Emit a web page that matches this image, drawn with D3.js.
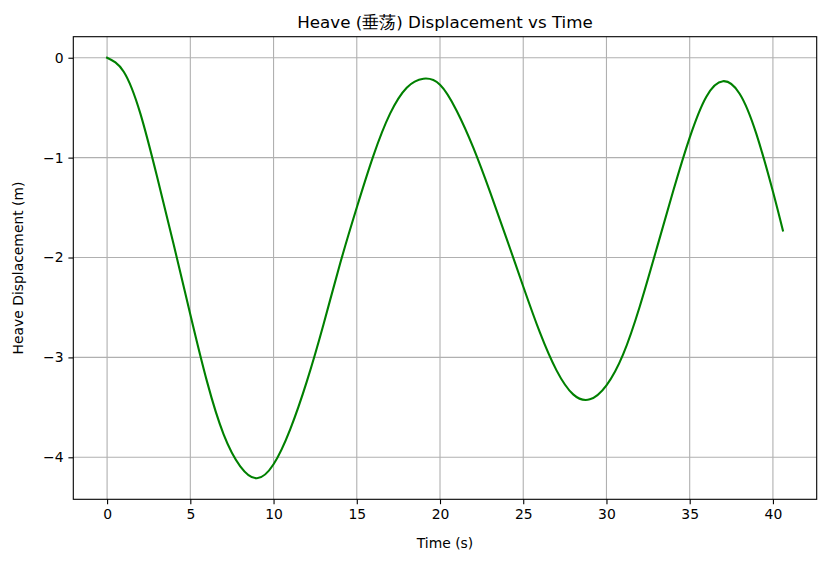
<!DOCTYPE html>
<html>
<head>
<meta charset="utf-8">
<script src="https://cdn.jsdelivr.net/npm/d3@7"></script>
<style>
  body { margin: 0; background: #fff; }
  svg { display: block; font-family: "DejaVu Sans", sans-serif; }
</style>
</head>
<body>
<svg id="main-svg" width="828" height="565"></svg>
<script>
// ----- //
// data
// ----- //
var timeValues = [0, 1, 2, 3, 4, 5, 6, 7, 8, 9, 10, 11, 12, 13, 14, 15, 16, 17, 18, 19, 20, 21, 22, 23, 24, 25, 26, 27, 28, 29, 30, 31, 32, 33, 34, 35, 36, 37, 38, 39, 40, 40.6];
var heaveValues = [0, -0.14, -0.56, -1.19, -1.87, -2.57, -3.24, -3.77, -4.09, -4.21, -4.07, -3.72, -3.24, -2.67, -2.06, -1.5, -0.98, -0.56, -0.3, -0.21, -0.27, -0.53, -0.9, -1.34, -1.81, -2.29, -2.75, -3.13, -3.37, -3.42, -3.28, -2.97, -2.49, -1.92, -1.34, -0.8, -0.39, -0.235, -0.36, -0.76, -1.34, -1.73];
var xTicks = [0, 5, 10, 15, 20, 25, 30, 35, 40];
var yTicks = [0, -1, -2, -3, -4];

var data = timeValues.map(function(t, i) { return { t: t, v: heaveValues[i] }; });

// ----- //
// layout
// ----- //
var plotLeft = 73.3, plotRight = 816.7, plotTop = 36.7, plotBottom = 499.3;

var svg = d3.select("#main-svg");

// matplotlib-style 5% margins around the data
var tExt = d3.extent(timeValues), vExt = d3.extent(heaveValues);
var tPad = (tExt[1] - tExt[0]) * 0.05, vPad = (vExt[1] - vExt[0]) * 0.05;

var x = d3.scaleLinear().domain([tExt[0] - tPad, tExt[1] + tPad]).range([plotLeft, plotRight]);
var y = d3.scaleLinear().domain([vExt[0] - vPad, vExt[1] + vPad]).range([plotBottom, plotTop]);

// grid
var grid = svg.append("g");
grid.selectAll(".gx").data(xTicks).enter().append("line")
    .attr("x1", d => x(d)).attr("x2", d => x(d))
    .attr("y1", plotTop).attr("y2", plotBottom)
    .attr("stroke", "#b0b0b0").attr("stroke-width", 1.1);
grid.selectAll(".gy").data(yTicks).enter().append("line")
    .attr("x1", plotLeft).attr("x2", plotRight)
    .attr("y1", d => y(d)).attr("y2", d => y(d))
    .attr("stroke", "#b0b0b0").attr("stroke-width", 1.1);

// the line
var line = d3.line()
    .x(d => x(d.t))
    .y(d => y(d.v))
    .curve(d3.curveNatural);

svg.append("path")
    .datum(data)
    .attr("d", line)
    .attr("fill", "none")
    .attr("stroke", "#008000")
    .attr("stroke-width", 2.1)
    .attr("stroke-linejoin", "round")
    .attr("stroke-linecap", "square");

// axes
var fmt = d => d < 0 ? "\u2212" + Math.abs(d) : String(d);

var xAxis = svg.append("g")
    .attr("transform", `translate(0,${plotBottom})`)
    .call(d3.axisBottom(x).tickValues(xTicks).tickFormat(fmt).tickSize(4.9).tickPadding(4.5));
var yAxis = svg.append("g")
    .attr("transform", `translate(${plotLeft},0)`)
    .call(d3.axisLeft(y).tickValues(yTicks).tickFormat(fmt).tickSize(4.9).tickPadding(4.9));

[xAxis, yAxis].forEach(function(a) {
    a.select(".domain").remove();
    a.selectAll(".tick line").attr("stroke", "#000").attr("stroke-width", 1.1);
    a.selectAll(".tick text")
        .attr("fill", "#000")
        .style("font-family", "DejaVu Sans")
        .style("font-size", "13.9px");
});

// frame
svg.append("rect")
    .attr("x", plotLeft).attr("y", plotTop)
    .attr("width", plotRight - plotLeft).attr("height", plotBottom - plotTop)
    .attr("fill", "none").attr("stroke", "#000").attr("stroke-width", 1.1);

// title and labels
svg.append("text")
    .attr("x", (plotLeft + plotRight) / 2).attr("y", 27.5)
    .attr("text-anchor", "middle")
    .style("font-size", "16.7px")
    .text("Heave (垂荡) Displacement vs Time");

svg.append("text")
    .attr("x", (plotLeft + plotRight) / 2).attr("y", 548)
    .attr("text-anchor", "middle")
    .style("font-size", "13.9px")
    .text("Time (s)");

svg.append("text")
    .attr("transform", `translate(23,${(plotTop + plotBottom) / 2}) rotate(-90)`)
    .attr("text-anchor", "middle")
    .style("font-size", "13.9px")
    .text("Heave Displacement (m)");
</script>
</body>
</html>
